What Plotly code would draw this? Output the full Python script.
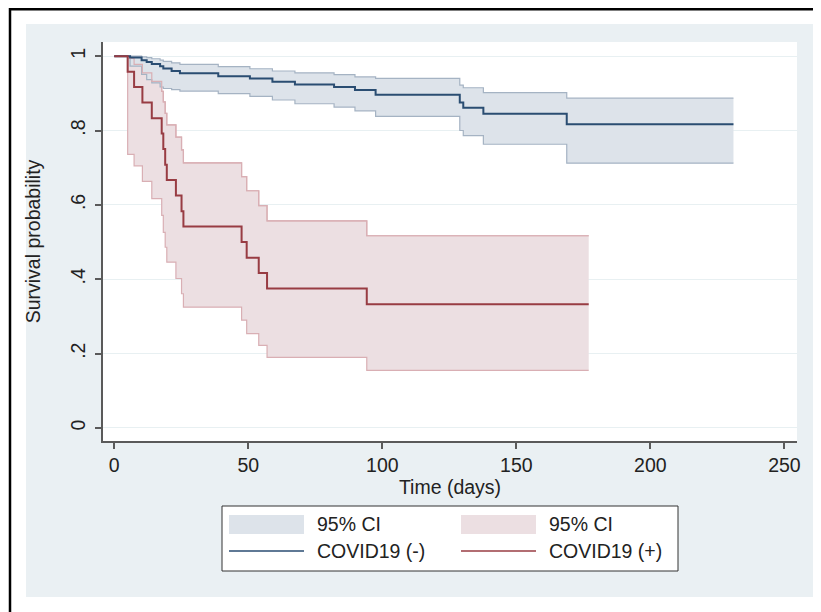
import plotly.graph_objects as go

# ---------------- data ----------------
neg_t = [0, 5.9, 10.2, 12.1, 14.0, 17.1, 18.3, 21.4, 24.5, 38.8, 50.6, 59.0,
         67.4, 82.0, 89.8, 97.5, 128.9, 130.2, 137.7, 168.8, 231.0]
neg_s = [1.0, .996, .989, .984, .979, .973, .967, .960, .954, .946, .940, .931,
         .924, .917, .909, .896, .875, .861, .845, .817, .817]
neg_hi = [1.0, 1.0, .998, .996, .993, .989, .986, .982, .978, .972, .966, .960,
          .955, .950, .944, .940, .922, .915, .902, .887, .887]
neg_lo = [1.0, .973, .951, .937, .928, .917, .913, .910, .906, .899, .892, .882,
          .872, .863, .853, .838, .800, .786, .763, .712, .712]

pos_t = [0, 5.0, 7.4, 10.5, 14.0, 17.7, 18.3, 19.0, 19.6, 23.0, 25.1, 25.8,
         47.5, 49.4, 53.9, 57.0, 94.2, 177.0]
pos_s = [1.0, .958, .917, .875, .833, .792, .750, .708, .667, .625, .583, .542,
         .500, .458, .417, .375, .333, .333]
pos_hi = [1.0, .994, .978, .955, .932, .905, .877, .846, .815, .782, .748, .713,
          .676, .638, .598, .557, .517, .517]
pos_lo = [1.0, .736, .705, .663, .617, .572, .526, .486, .446, .402, .361, .325,
          .290, .254, .222, .190, .155, .155]

x_ticks = [0, 50, 100, 150, 200, 250]
y_ticks = [0, .2, .4, .6, .8, 1]
y_tick_text = ["0", ".2", ".4", ".6", ".8", "1"]

legend_labels = ["95% CI", "95% CI", "COVID19 (-)", "COVID19 (+)"]
x_title = "Time (days)"
y_title = "Survival probability"

# ---------------- styles ----------------
BLUE = "#2a4d72"
BLUE_FILL = "#dde3ea"
BLUE_CI = "#a5b3c3"
RED = "#983c43"
RED_FILL = "#ecdfe2"
RED_CI = "#d9afb4"
BG = "#eaf0f3"
AXIS = "#5a5a5a"
FONT = "Liberation Sans, Arial, sans-serif"
FS = 19.5

# page body has an 8px default margin: work in page pixels, convert to figure pixels
OFF = 8
W, H = 821 - OFF, 612 - OFF
L, R, T, B = 103, 797, 42, 441   # plot area in page pixels


def px(x):
    return (x - L) / (R - L)


def py(y):
    return (B - y) / (B - T)


fig = go.Figure()


def ci_band(t, lo, hi, fill, edge):
    fig.add_trace(go.Scatter(x=t, y=lo, mode="lines", line=dict(color=edge, width=1.2, shape="hv"),
                             showlegend=False, hoverinfo="skip"))
    fig.add_trace(go.Scatter(x=t, y=hi, mode="lines", line=dict(color=edge, width=1.2, shape="hv"),
                             fill="tonexty", fillcolor=fill, showlegend=False, hoverinfo="skip"))


ci_band(pos_t, pos_lo, pos_hi, RED_FILL, RED_CI)
ci_band(neg_t, neg_lo, neg_hi, BLUE_FILL, BLUE_CI)
fig.add_trace(go.Scatter(x=pos_t, y=pos_hi, mode="lines", line=dict(color=RED_CI, width=1.2, shape="hv"),
                         showlegend=False, hoverinfo="skip"))
fig.add_trace(go.Scatter(x=neg_t, y=neg_s, mode="lines", name=legend_labels[2],
                         line=dict(color=BLUE, width=2, shape="hv"), showlegend=False))
fig.add_trace(go.Scatter(x=pos_t, y=pos_s, mode="lines", name=legend_labels[3],
                         line=dict(color=RED, width=2, shape="hv"), showlegend=False))

shapes = [
    dict(type="rect", xref="paper", yref="paper", x0=px(26), x1=px(815), y0=py(597), y1=py(24),
         fillcolor=BG, line=dict(width=0), layer="below"),
    dict(type="rect", xref="paper", yref="paper", x0=0, x1=1, y0=0, y1=1,
         fillcolor="white", line=dict(width=0), layer="below"),
    dict(type="line", xref="paper", yref="paper", x0=px(10), x1=px(821), y0=py(9.2), y1=py(9.2),
         line=dict(color="black", width=2.5)),
    dict(type="line", xref="paper", yref="paper", x0=px(10), x1=px(10), y0=py(8), y1=py(612),
         line=dict(color="black", width=2.5)),
    dict(type="rect", xref="paper", yref="paper", x0=px(222), x1=px(678), y0=py(571), y1=py(506),
         fillcolor="white", line=dict(color="#333333", width=1)),
    dict(type="rect", xref="paper", yref="paper", x0=px(229), x1=px(304), y0=py(534), y1=py(515),
         fillcolor=BLUE_FILL, line=dict(width=0)),
    dict(type="rect", xref="paper", yref="paper", x0=px(461), x1=px(536), y0=py(534), y1=py(515),
         fillcolor=RED_FILL, line=dict(width=0)),
    dict(type="line", xref="paper", yref="paper", x0=px(229), x1=px(304), y0=py(551), y1=py(551),
         line=dict(color=BLUE, width=1.5)),
    dict(type="line", xref="paper", yref="paper", x0=px(461), x1=px(536), y0=py(551), y1=py(551),
         line=dict(color=RED, width=1.5)),
]

annotations = []
for lab, xx, yy in [(legend_labels[0], 315, 524), (legend_labels[1], 547, 524),
                    (legend_labels[2], 315, 551), (legend_labels[3], 547, 551)]:
    annotations.append(dict(text=lab, xref="paper", yref="paper", x=px(xx), y=py(yy),
                            xanchor="left", yanchor="middle", showarrow=False,
                            font=dict(family=FONT, size=FS, color="#222222")))

fig.update_layout(
    width=W, height=H,
    margin=dict(l=L - OFF, r=W - (R - OFF), t=T - OFF, b=H - (B - OFF), autoexpand=False),
    paper_bgcolor="white", plot_bgcolor="white",
    shapes=shapes, annotations=annotations,
    showlegend=False,
    font=dict(family=FONT, size=FS, color="#222222"),
)
fig.update_xaxes(
    range=[-4.2, 254.7], tickvals=x_ticks, showgrid=False, zeroline=False,
    showline=True, linecolor=AXIS, linewidth=1.5,
    ticks="outside", ticklen=6, tickwidth=1.5, tickcolor=AXIS,
    ticklabelstandoff=0,
    tickfont=dict(family=FONT, size=FS, color="#222222"),
    title=dict(text=x_title, standoff=0, font=dict(family=FONT, size=FS, color="#222222")),
)
fig.update_yaxes(
    range=[-0.035, 1.038], tickvals=y_ticks, ticktext=y_tick_text, tickangle=-90,
    showgrid=True, gridcolor="#e8f0f2", gridwidth=1, zeroline=False,
    showline=True, linecolor=AXIS, linewidth=1.5,
    ticks="outside", ticklen=6, tickwidth=1.5, tickcolor=AXIS,
    ticklabelstandoff=2,
    tickfont=dict(family=FONT, size=FS, color="#222222"),
    title=dict(text=y_title, standoff=22, font=dict(family=FONT, size=FS, color="#222222")),
)

fig.write_html("out.html")
